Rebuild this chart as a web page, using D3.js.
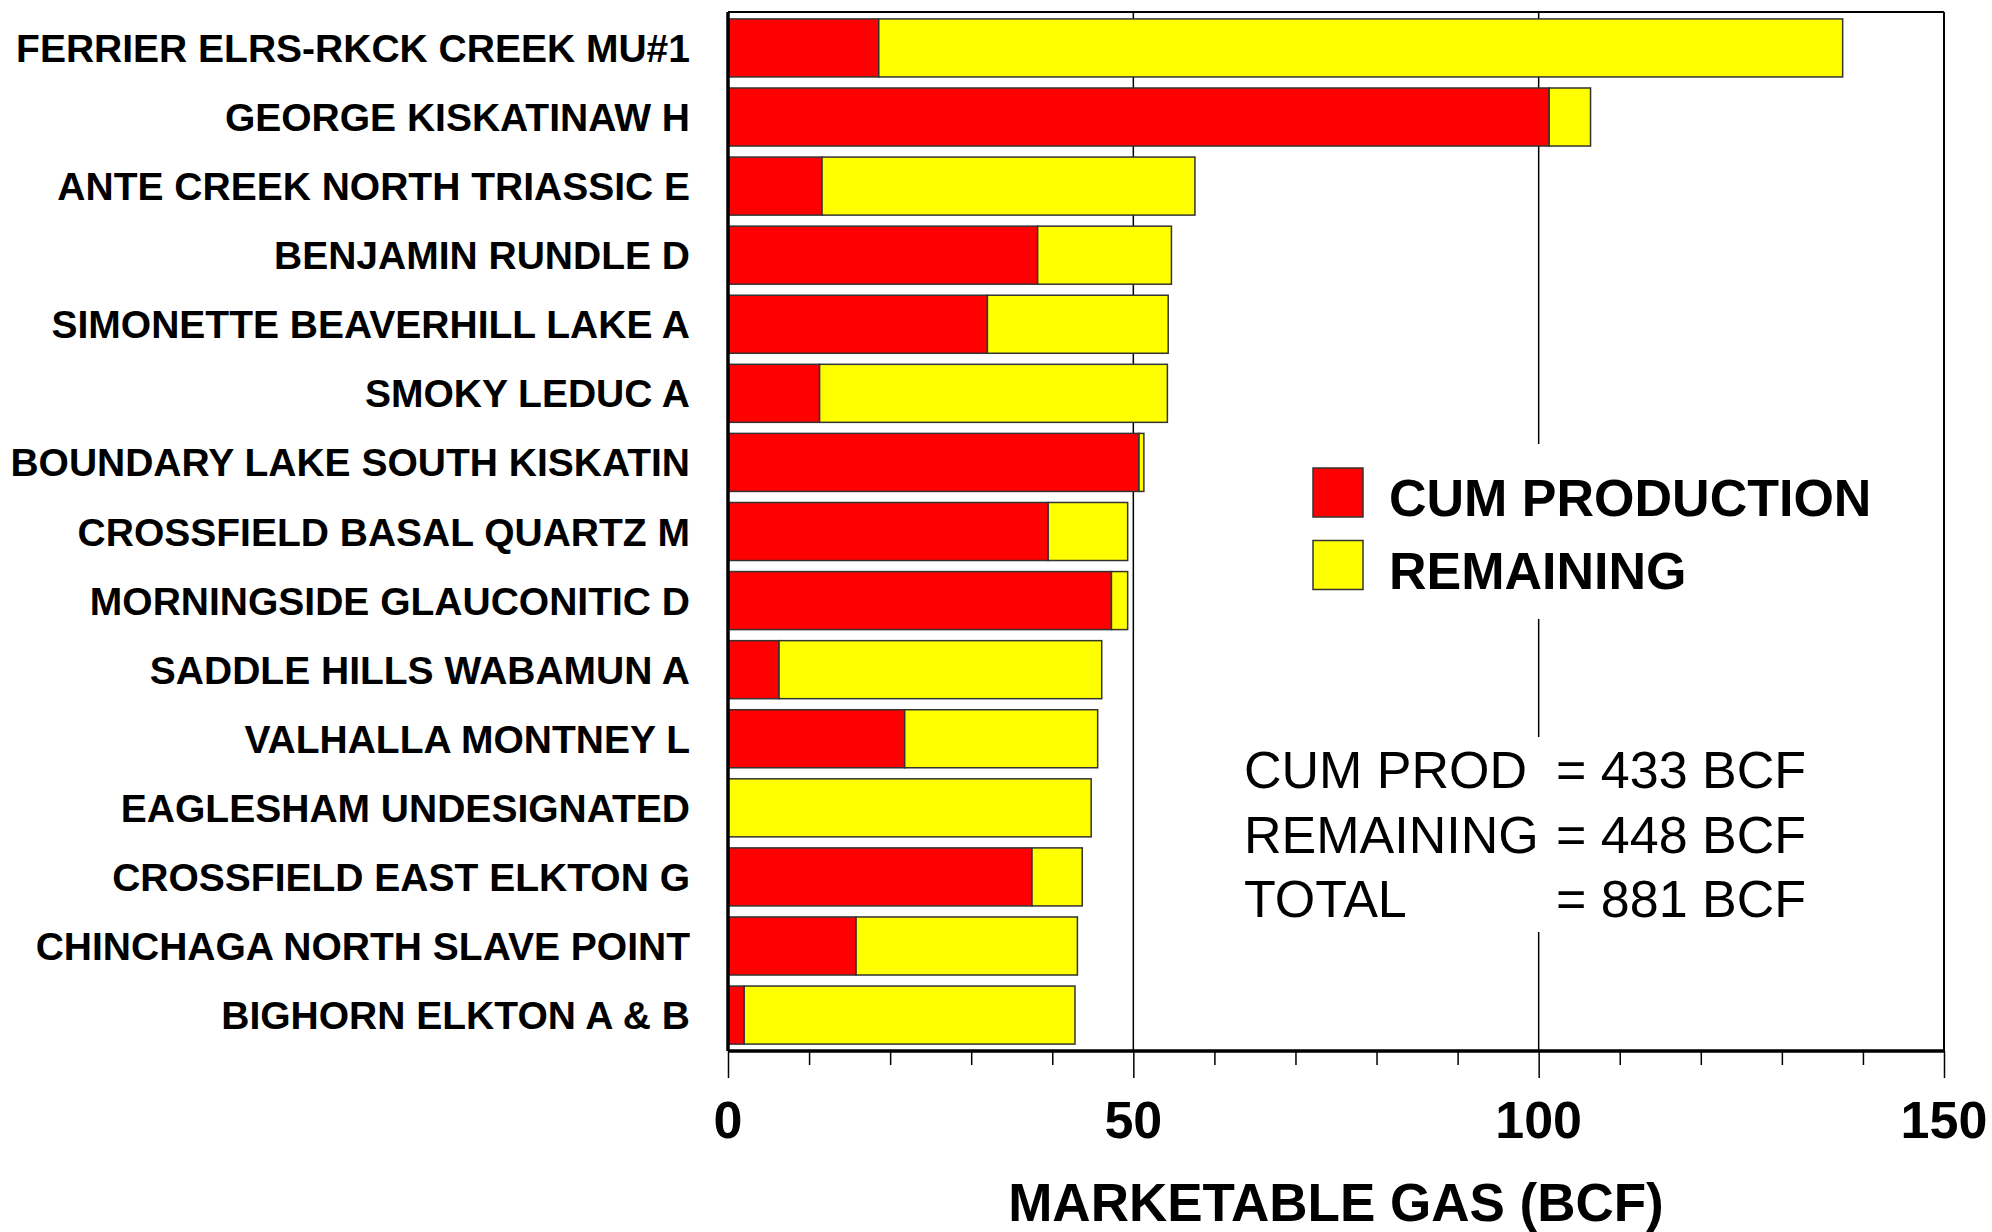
<!DOCTYPE html>
<html>
<head>
<meta charset="utf-8">
<script src="https://cdn.jsdelivr.net/npm/d3@7"></script>
<style>
  body { margin: 0; background: #fff; }
  text { font-family: Arial, "Liberation Sans", sans-serif; fill: #000; }
</style>
</head>
<body>
<script>
// field names, top to bottom
var fields = [
  "FERRIER ELRS-RKCK CREEK MU#1",
  "GEORGE KISKATINAW H",
  "ANTE CREEK NORTH TRIASSIC E",
  "BENJAMIN RUNDLE D",
  "SIMONETTE BEAVERHILL LAKE A",
  "SMOKY LEDUC A",
  "BOUNDARY LAKE SOUTH KISKATIN",
  "CROSSFIELD BASAL QUARTZ M",
  "MORNINGSIDE GLAUCONITIC D",
  "SADDLE HILLS WABAMUN A",
  "VALHALLA MONTNEY L",
  "EAGLESHAM UNDESIGNATED",
  "CROSSFIELD EAST ELKTON G",
  "CHINCHAGA NORTH SLAVE POINT",
  "BIGHORN ELKTON A & B"
];

// BCF
var cumProd   = [18.6, 101.3, 11.6, 38.2, 32.0, 11.3, 50.7, 39.5, 47.3, 6.3, 21.8, 0.0, 37.5, 15.8, 2.0];
var remaining = [118.9,  5.1, 46.0, 16.5, 22.3, 42.9,  0.6,  9.8,  2.0, 39.8, 23.8, 44.8, 6.2, 27.3, 40.8];

var xTicks = [0, 50, 100, 150];
var seriesNames = ["CUM PRODUCTION", "REMAINING"];
var seriesColors = ["#ff0000", "#ffff00"];
var summaryLabels = ["CUM PROD", "REMAINING", "TOTAL"];
var summaryValues = ["= 433 BCF", "= 448 BCF", "= 881 BCF"];

var width = 1992, height = 1232;
var plotLeft = 728, plotRight = 1944, plotTop = 12, plotBottom = 1051;

var svg = d3.select("body").append("svg")
    .attr("width", width)
    .attr("height", height);

var x = d3.scaleLinear().domain([0, 150]).range([plotLeft, plotRight]);
var y = d3.scaleBand().domain(fields).range([plotTop, plotBottom])
    .paddingInner(0.16).paddingOuter(0.1);

// gridlines at 50 and 100
svg.append("g").selectAll("line")
    .data(xTicks.slice(1, 3))
  .enter().append("line")
    .attr("x1", d => x(d)).attr("x2", d => x(d))
    .attr("y1", plotTop).attr("y2", plotBottom)
    .attr("stroke", "#000").attr("stroke-width", 1.5);

// stacked bars
var stacked = d3.stack().keys([0, 1])
    .value((d, k) => k === 0 ? cumProd[d] : remaining[d])(d3.range(fields.length));

svg.append("g").selectAll("g")
    .data(stacked)
  .enter().append("g")
    .attr("fill", (d, i) => seriesColors[i])
  .selectAll("rect")
    .data(d => d.filter(s => s[1] - s[0] > 0))
  .enter().append("rect")
    .attr("x", d => x(d[0]))
    .attr("y", d => y(fields[d.data]))
    .attr("width", d => x(d[1]) - x(d[0]))
    .attr("height", y.bandwidth())
    .attr("stroke", "#333")
    .attr("stroke-width", 1.5);

// frame
svg.append("line").attr("x1", plotLeft).attr("x2", plotRight).attr("y1", plotTop).attr("y2", plotTop)
    .attr("stroke", "#000").attr("stroke-width", 2);
svg.append("line").attr("x1", plotRight).attr("x2", plotRight).attr("y1", plotTop).attr("y2", plotBottom)
    .attr("stroke", "#000").attr("stroke-width", 2);
svg.append("line").attr("x1", plotLeft).attr("x2", plotLeft).attr("y1", plotTop).attr("y2", plotBottom)
    .attr("stroke", "#000").attr("stroke-width", 3.5);

// x axis
var xAxis = svg.append("g")
    .attr("transform", "translate(0," + plotBottom + ")")
    .call(d3.axisBottom(x).tickValues(d3.range(0, 151, 10)).tickSize(14).tickFormat(""));
xAxis.select(".domain").attr("stroke-width", 3.5).attr("d", "M" + plotLeft + ",0H" + plotRight);
xAxis.selectAll(".tick line").attr("stroke-width", 1.5)
    .attr("y2", d => d % 50 === 0 ? 27 : 14);

svg.append("g").selectAll("text")
    .data(xTicks)
  .enter().append("text")
    .attr("x", d => x(d))
    .attr("y", 1138)
    .attr("text-anchor", "middle")
    .attr("font-size", 52)
    .attr("font-weight", "bold")
    .text(d => d);

svg.append("text")
    .attr("x", (plotLeft + plotRight) / 2)
    .attr("y", 1221)
    .attr("text-anchor", "middle")
    .attr("font-size", 53)
    .attr("font-weight", "bold")
    .text("MARKETABLE GAS (BCF)");

// category labels
svg.append("g").selectAll("text")
    .data(fields)
  .enter().append("text")
    .attr("x", 690)
    .attr("y", d => y(d) + y.bandwidth() / 2 + 14)
    .attr("text-anchor", "end")
    .attr("font-size", 39)
    .attr("font-weight", "bold")
    .text(d => d);

// legend
svg.append("rect").attr("x", 1290).attr("y", 444).attr("width", 620).attr("height", 175).attr("fill", "#fff");
var legend = svg.append("g").selectAll("g")
    .data(seriesNames)
  .enter().append("g")
    .attr("transform", (d, i) => "translate(1313," + (468 + i * 72.5) + ")");
legend.append("rect")
    .attr("width", 50).attr("height", 49)
    .attr("fill", (d, i) => seriesColors[i])
    .attr("stroke", "#333").attr("stroke-width", 1.5);
legend.append("text")
    .attr("x", 76).attr("y", 48)
    .attr("font-size", 52)
    .attr("font-weight", "bold")
    .text(d => d);

// summary
svg.append("rect").attr("x", 1230).attr("y", 737).attr("width", 620).attr("height", 195).attr("fill", "#fff");
var summary = svg.append("g").selectAll("g")
    .data(summaryLabels)
  .enter().append("g")
    .attr("transform", (d, i) => "translate(0," + (788 + i * 64.5) + ")");
summary.append("text")
    .attr("x", 1244)
    .attr("font-size", 52)
    .text(d => d);
summary.append("text")
    .attr("x", 1556)
    .attr("font-size", 52)
    .text((d, i) => summaryValues[i]);
</script>
</body>
</html>
